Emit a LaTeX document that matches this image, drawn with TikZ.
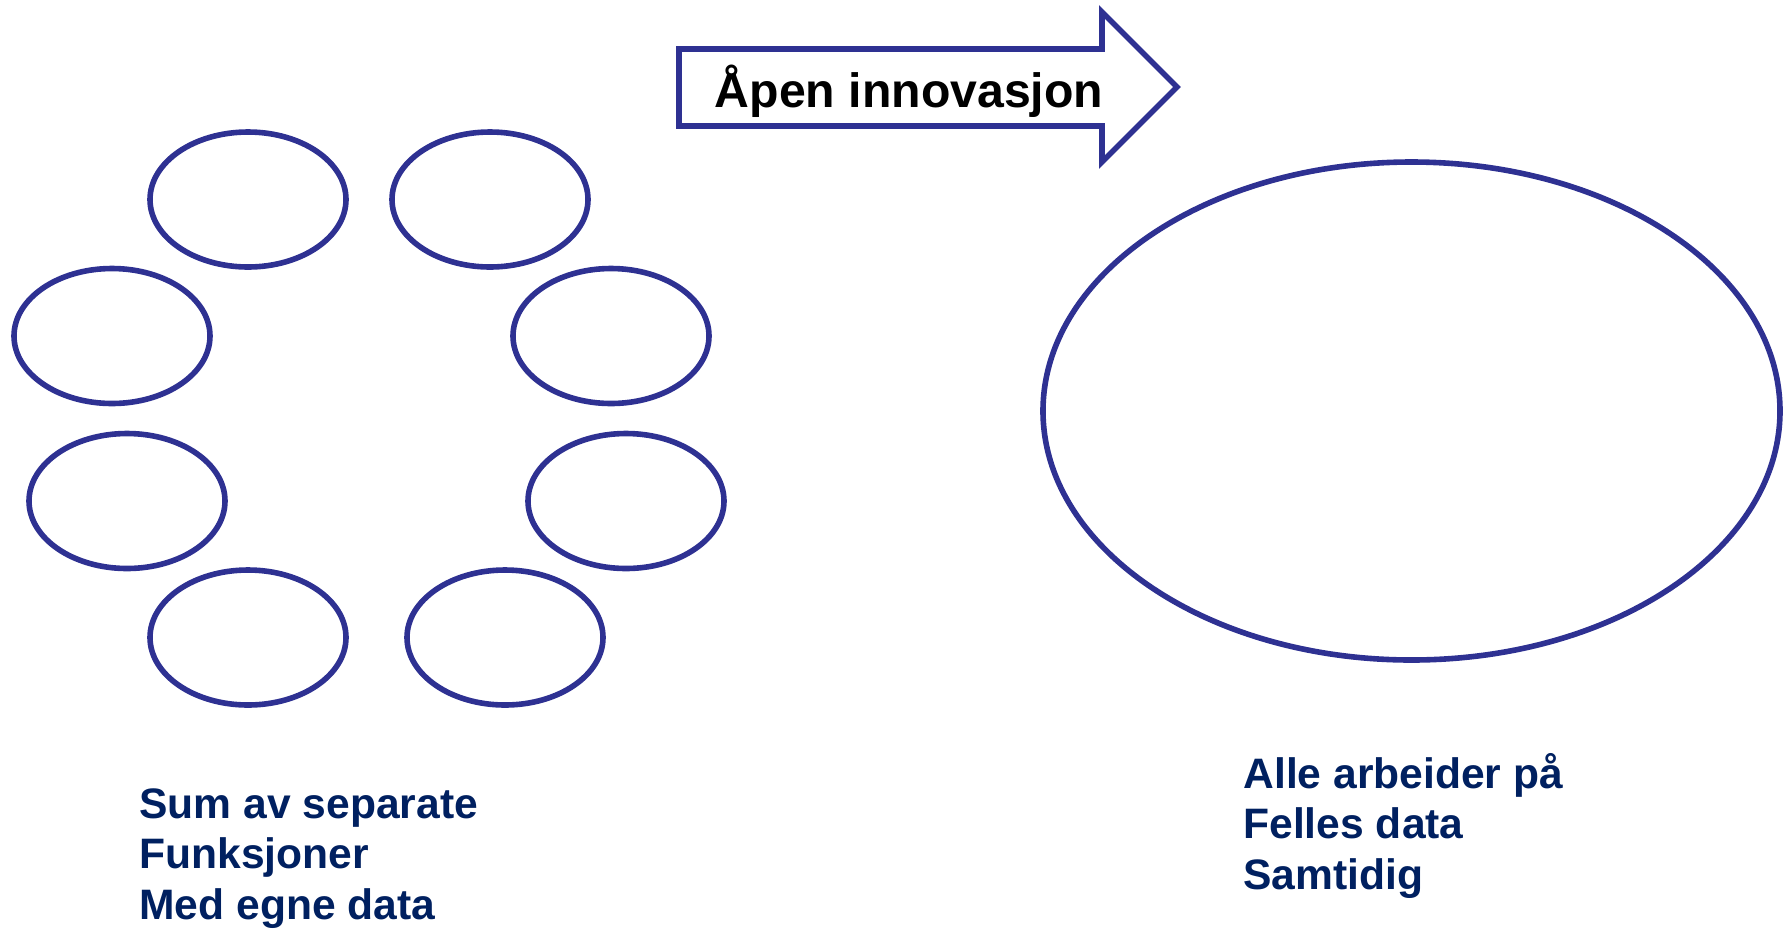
\documentclass[tikz,border=0pt]{standalone}
\usepackage{fontspec}
\setmainfont{Liberation Sans}
\usetikzlibrary{shapes.geometric}
\definecolor{outl}{RGB}{46,49,146}
\definecolor{txtblue}{RGB}{0,32,96}
\tikzset{
  oval/.style={ellipse, draw=outl, line width=2.8pt, inner sep=0pt,
    minimum width=98pt, minimum height=67.5pt},
  bigoval/.style={ellipse, draw=outl, line width=2.8pt, inner sep=0pt,
    minimum width=368.5pt, minimum height=249pt},
  arrowshape/.style={draw=outl, line width=2.8pt, fill=white, line join=miter},
  lbl/.style={anchor=base west, inner sep=0pt, text=txtblue,
    font=\fontsize{21.3pt}{25pt}\selectfont\bfseries},
  arrowlbl/.style={anchor=base, inner sep=0pt, text=black,
    font=\fontsize{24.1pt}{28pt}\selectfont\bfseries}
}
\begin{document}
\begin{tikzpicture}[x=0.5pt, y=-0.5pt]
\useasboundingbox (0,0) rectangle (1789,928);
% arrow
\coordinate (a1) at (679,49);
\coordinate (a2) at (1102,49);
\coordinate (a3) at (1102,12);
\coordinate (tip) at (1177,87);
\coordinate (a5) at (1102,162);
\coordinate (a6) at (1102,126);
\coordinate (a7) at (679,126);
\draw[arrowshape] (a1) -- (a2) -- (a3) -- (tip) -- (a5) -- (a6) -- (a7) -- cycle;
\node[arrowlbl] (alabel) at (909,107) {Åpen innovasjon};
% small ovals
\node[oval] (e1) at (248,199.5) {};
\node[oval] (e2) at (490,199.5) {};
\node[oval] (e3) at (112,336) {};
\node[oval] (e4) at (611,336) {};
\node[oval] (e5) at (127,501) {};
\node[oval] (e6) at (626,501) {};
\node[oval] (e7) at (248,637.5) {};
\node[oval] (e8) at (505,637.5) {};
% big oval
\node[bigoval] (big) at (1411.5,411) {};
% texts
\node[lbl] (l1) at (139,818) {Sum av separate};
\node[lbl] (l2) at (139,868.5) {Funksjoner};
\node[lbl] (l3) at (139,919) {Med egne data};
\node[lbl] (r1) at (1243,788) {Alle arbeider på};
\node[lbl] (r2) at (1243,838.5) {Felles data};
\node[lbl] (r3) at (1243,889) {Samtidig};
\end{tikzpicture}
\end{document}
